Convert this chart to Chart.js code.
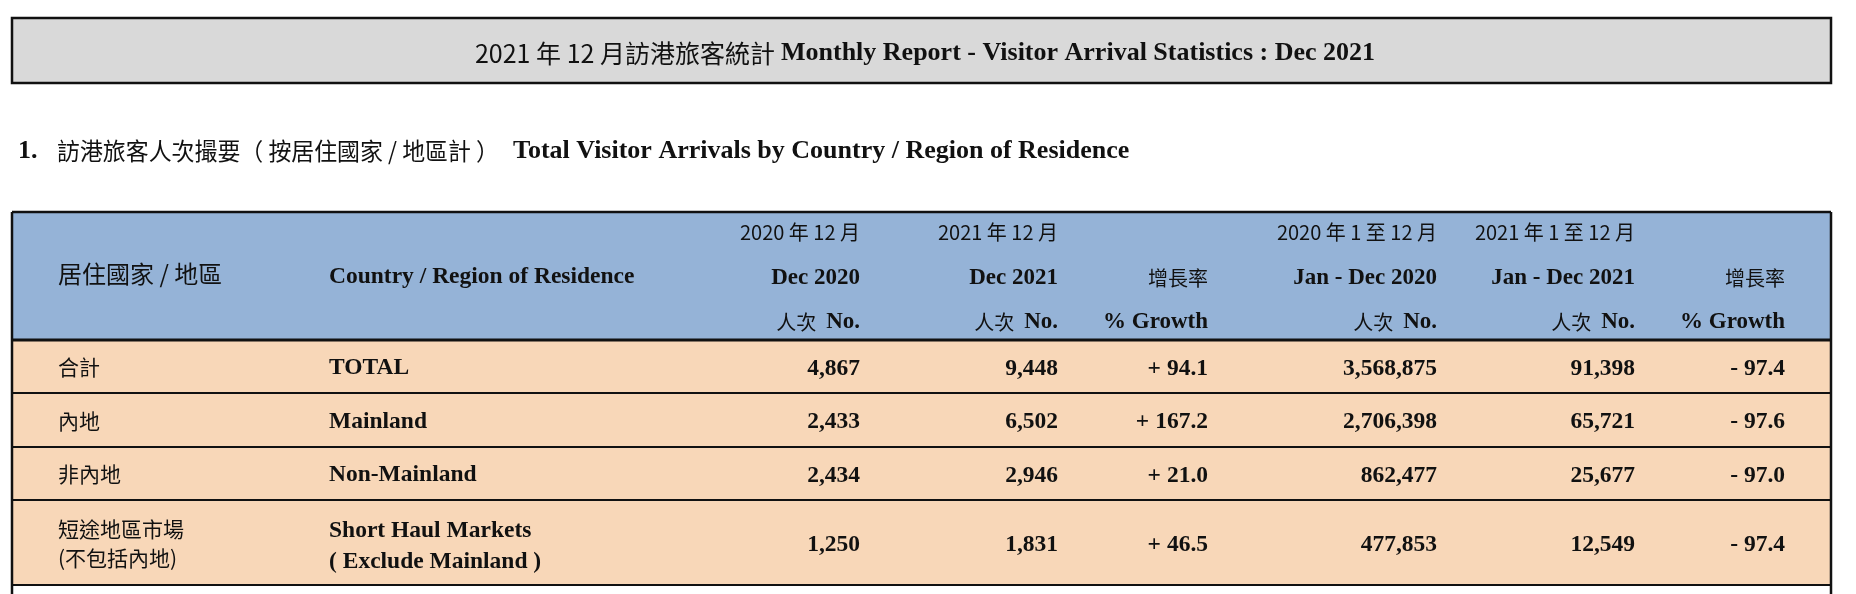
<!DOCTYPE html>
<html lang="zh-Hant">
<head>
<meta charset="UTF-8">
<title>訪港旅客統計 - Dec 2021</title>
<script src="https://cdn.jsdelivr.net/npm/chart.js"></script>
<style>
  html, body { margin: 0; padding: 0; background: #fff; }
  canvas { display: block; }
</style>
</head>
<body>
<canvas id="tableChart" width="1856" height="594"></canvas>
<script>
// ---- content of the report table ----
const titleZh = '2021 年 12 月訪港旅客統計';
const titleEn = 'Monthly Report - Visitor Arrival Statistics : Dec 2021';
const sectionNo = '1.';
const sectionZh = '訪港旅客人次撮要（ 按居住國家 / 地區計 ）';
const sectionEn = 'Total Visitor Arrivals by Country / Region of Residence';

const headRegionZh = '居住國家 / 地區';
const headRegionEn = 'Country / Region of Residence';
const headPeriodZh = ['2020 年 12 月', '2021 年 12 月', '', '2020 年 1 至 12 月', '2021 年 1 至 12 月', ''];
const headPeriodEn = ['Dec 2020', 'Dec 2021', '增長率', 'Jan - Dec 2020', 'Jan - Dec 2021', '增長率'];
const headUnit = ['No.', 'No.', '% Growth', 'No.', 'No.', '% Growth'];

const regionsZh = [['合計'], ['內地'], ['非內地'], ['短途地區市場', '(不包括內地)']];
const regionsEn = [['TOTAL'], ['Mainland'], ['Non-Mainland'], ['Short Haul Markets', '( Exclude Mainland )']];
const dec2020 = [4867, 2433, 2434, 1250];
const dec2021 = [9448, 6502, 2946, 1831];
const growthDec = [94.1, 167.2, 21.0, 46.5];
const ytd2020 = [3568875, 2706398, 862477, 477853];
const ytd2021 = [91398, 65721, 25677, 12549];
const growthYtd = [-97.4, -97.6, -97.0, -97.4];

// ---- layout (in scale units, 1 unit = 1px here) ----
const layout = {
    titleBox: [12, 18, 1831, 83],
    titleY: 53,
    titleSplit: 775,
    sectionY: 151,
    sectionX: [18, 57, 513],
    table: [12, 212, 1831, 594],
    rowEdges: [340, 393, 447, 500, 585],
    headY: [232, 278, 322],
    rowTextY: [[368], [422], [475], [530, 559]],
    labelX: [58, 329],
    colRight: [860, 1058, 1208, 1437, 1635, 1785]
};

const ZH = '"Noto Sans CJK TC", "Noto Sans", sans-serif';
const EN = '"Liberation Serif", "DejaVu Serif", serif';
const headBlue = '#95b3d7';
const rowPeach = '#f8d7b8';
const titleGrey = '#d9d9d9';
const ink = '#111';

function fmtNum(v) { return v.toLocaleString('en-US'); }
function fmtGrowth(v) { return (v >= 0 ? '+ ' : '- ') + Math.abs(v).toFixed(1); }

const columns = [
    dec2020.map(fmtNum), dec2021.map(fmtNum), growthDec.map(fmtGrowth),
    ytd2020.map(fmtNum), ytd2021.map(fmtNum), growthYtd.map(fmtGrowth)
];

const tablePlugin = {
    id: 'tablePlugin',
    afterDraw(chart) {
        const ctx = chart.ctx;
        const sx = chart.scales.x, sy = chart.scales.y;
        const X = v => sx.getPixelForValue(v);
        const Y = v => sy.getPixelForValue(v);

        function text(str, xv, yv, font, align, maxW) {
            ctx.font = font;
            ctx.textAlign = align || 'left';
            ctx.textBaseline = 'middle';
            ctx.fillStyle = ink;
            if (maxW) ctx.fillText(str, X(xv), Y(yv), maxW);
            else ctx.fillText(str, X(xv), Y(yv));
            return ctx.measureText(str).width;
        }
        function rect(x0, y0, x1, y1, fill) {
            ctx.fillStyle = fill;
            ctx.fillRect(X(x0), Y(y0), X(x1) - X(x0), Y(y1) - Y(y0));
        }
        function line(x0, y0, x1, y1, w) {
            ctx.strokeStyle = ink;
            ctx.lineWidth = w;
            ctx.beginPath();
            ctx.moveTo(X(x0), Y(y0));
            ctx.lineTo(X(x1), Y(y1));
            ctx.stroke();
        }

        ctx.save();

        // title box
        const tb = layout.titleBox;
        rect(tb[0], tb[1], tb[2], tb[3], titleGrey);
        ctx.strokeStyle = ink;
        ctx.lineWidth = 2.5;
        ctx.strokeRect(X(tb[0]), Y(tb[1]), X(tb[2]) - X(tb[0]), Y(tb[3]) - Y(tb[1]));
        text(titleZh, layout.titleSplit, layout.titleY, '25px ' + ZH, 'right');
        text(titleEn, layout.titleSplit + 6, layout.titleY, 'bold 26px ' + EN, 'left', 600);

        // section heading
        text(sectionNo, layout.sectionX[0], layout.sectionY, 'bold 26px ' + EN, 'left');
        text(sectionZh, layout.sectionX[1], layout.sectionY, '24px ' + ZH, 'left', 442);
        text(sectionEn, layout.sectionX[2], layout.sectionY, 'bold 26px ' + EN, 'left', 622);

        // table backgrounds
        const t = layout.table, re = layout.rowEdges;
        rect(t[0], t[1], t[2], re[0], headBlue);
        for (let i = 0; i < re.length - 1; i++) rect(t[0], re[i], t[2], re[i + 1], rowPeach);

        // header texts
        const hy = layout.headY;
        text(headRegionZh, layout.labelX[0], 274, '24px ' + ZH, 'left');
        text(headRegionEn, layout.labelX[1], 277, 'bold 23.5px ' + EN, 'left');
        layout.colRight.forEach((cx, c) => {
            if (headPeriodZh[c]) text(headPeriodZh[c], cx, hy[0], '20px ' + ZH, 'right');
            const p = headPeriodEn[c];
            if (/[\u4e00-\u9fff]/.test(p)) text(p, cx, hy[1], '20px ' + ZH, 'right');
            else text(p, cx, hy[1], 'bold 23px ' + EN, 'right');
            const w = text(headUnit[c], cx, hy[2], 'bold 23px ' + EN, 'right');
            if (headUnit[c] === 'No.') text('人次', cx - w - 10, hy[2], '20px ' + ZH, 'right');
        });

        // body rows
        regionsZh.forEach((lines, r) => {
            const ys = layout.rowTextY[r];
            lines.forEach((s, k) => text(s, layout.labelX[0], ys[k] - 1, '21px ' + ZH, 'left'));
            regionsEn[r].forEach((s, k) => text(s, layout.labelX[1], ys[k] + (lines.length > 1 ? 2 * k + 1 : 0), 'bold 23.5px ' + EN, 'left'));
            const midY = (re[r] + re[r + 1]) / 2 + 2;
            columns.forEach((col, c) => text(col[r], layout.colRight[c], midY, 'bold 23.5px ' + EN, 'right'));
        });

        // rules
        for (let i = 0; i < re.length; i++) line(t[0], re[i], t[2], re[i], i === 0 ? 3 : 2);
        line(t[0], t[1], t[2], t[1], 2.5);
        line(t[0], t[1], t[0], t[3], 2.5);
        line(t[2], t[1], t[2], t[3], 2.5);

        ctx.restore();
    }
};

new Chart(document.getElementById('tableChart'), {
    type: 'scatter',
    data: { datasets: [{ data: [] }] },
    options: {
        responsive: false,
        animation: false,
        devicePixelRatio: 1,
        layout: { padding: 0 },
        plugins: { legend: { display: false }, tooltip: { enabled: false } },
        scales: {
            x: { type: 'linear', min: 0, max: 1856, display: false },
            y: { type: 'linear', min: 0, max: 594, reverse: true, display: false }
        }
    },
    plugins: [tablePlugin]
});
</script>
</body>
</html>
